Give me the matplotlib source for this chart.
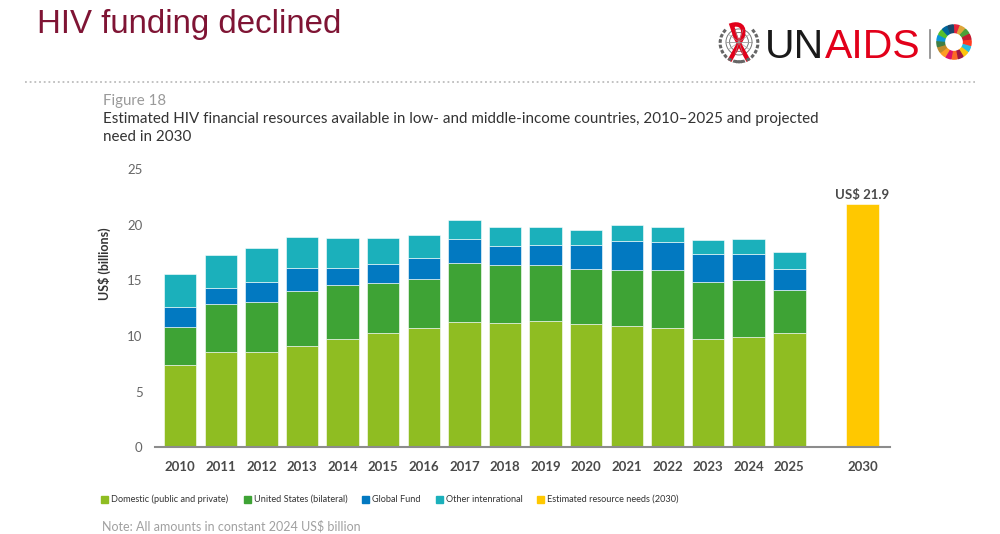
import numpy as np
import matplotlib
matplotlib.use("Agg")
import matplotlib.pyplot as plt
from matplotlib.lines import Line2D
from matplotlib.patches import Rectangle, Wedge, Circle
from matplotlib.path import Path
from matplotlib.patches import PathPatch

# ---------------- data ----------------
years = ["2010", "2011", "2012", "2013", "2014", "2015", "2016", "2017",
         "2018", "2019", "2020", "2021", "2022", "2023", "2024", "2025"]
domestic = [7.4, 8.55, 8.55, 9.1, 9.7, 10.3, 10.7, 11.3, 11.2, 11.4, 11.05, 10.95, 10.7, 9.7, 9.9, 10.25]
united_states = [3.45, 4.3, 4.55, 4.95, 4.9, 4.45, 4.45, 5.25, 5.15, 4.95, 4.95, 5.0, 5.25, 5.15, 5.15, 3.85]
global_fund = [1.75, 1.5, 1.75, 2.05, 1.5, 1.7, 1.85, 2.15, 1.75, 1.85, 2.15, 2.6, 2.5, 2.5, 2.35, 1.95]
other_intl = [2.95, 2.9, 3.05, 2.85, 2.7, 2.35, 2.05, 1.75, 1.7, 1.6, 1.35, 1.4, 1.35, 1.25, 1.3, 1.5]
need_year = "2030"
need_value = 21.9

series_labels = ["Domestic (public and private)", "United States (bilateral)", "Global Fund",
                 "Other intenrational", "Estimated resource needs (2030)"]
series_colors = ["#8FBD22", "#3EA335", "#0279C1", "#1BB0BB", "#FFC800"]
yticks = [0, 5, 10, 15, 20, 25]

FONT = ["Lato", "DejaVu Sans"]
SANS = ["Liberation Sans", "DejaVu Sans"]

# ---------------- figure ----------------
fig = plt.figure(figsize=(10, 5.34), dpi=100)
W, H = 1000.0, 534.0

def fx(px):
    return px / W

def fy(py):
    return 1 - py / H

ax = fig.add_axes([0.155, 0.1624, 0.735, 0.5206])

pos = np.arange(len(years), dtype=float)
need_pos = pos[-1] + 1.8
bw = 0.8

bottom = np.zeros(len(years))
for vals, col in zip([domestic, united_states, global_fund, other_intl], series_colors[:4]):
    ax.bar(pos, vals, bw, bottom=bottom, color=col, edgecolor="white", linewidth=0.4, zorder=2)
    bottom += np.array(vals)
ax.bar([need_pos], [need_value], bw, color=series_colors[4], edgecolor="white", linewidth=0.4, zorder=2)
ax.annotate(f"US$ {need_value}", (need_pos, need_value), xytext=(0, 2), textcoords="offset points",
            ha="center", va="bottom", fontsize=9.5, fontweight="bold", color="#4A4A4A",
            family=FONT)

ax.set_xlim(-0.62, need_pos + 0.68)
ax.set_ylim(0, 25)
ax.set_yticks(yticks)
ax.set_yticklabels([str(t) for t in yticks], family=FONT, fontsize=9.5, color="#666666")
ax.set_xticks(list(pos) + [need_pos])
ax.set_xticklabels(years + [need_year], family=FONT, fontsize=9.5, fontweight="bold",
                   color="#4A4A4A")
ax.tick_params(axis="y", length=0, pad=9)
ax.tick_params(axis="x", length=0, pad=10)
for s in ["top", "right", "left"]:
    ax.spines[s].set_visible(False)
ax.spines["bottom"].set_color("#8C8C8C")
ax.spines["bottom"].set_linewidth(1.5)
ax.spines["bottom"].set_zorder(3)
ax.set_ylabel("US$ (billions)", family=FONT, fontsize=9, fontweight="bold", color="#333333")
ax.yaxis.set_label_coords(-0.06, 0.66)

# ---------------- header ----------------
fig.text(fx(37), fy(33), "HIV funding declined", fontsize=23.8, color="#7F1434",
         family=SANS, va="baseline", ha="left")

fig.add_artist(Line2D([fx(25), fx(975)], [fy(82), fy(82)], linestyle=(0, (1, 1.6)),
                      color="#BDBDBD", linewidth=1.3))

fig.text(fx(103), fy(105), "Figure 18", fontsize=10.8, color="#9A9A9A", family=FONT,
         va="baseline", ha="left")
fig.text(fx(103), fy(123), "Estimated HIV financial resources available in low- and middle-income countries, 2010\u20132025 and projected",
         fontsize=10.9, color="#333333", family=FONT, va="baseline", ha="left")
fig.text(fx(103), fy(141), "need in 2030", fontsize=10.9, color="#333333", family=FONT,
         va="baseline", ha="left")

# ---------------- UNAIDS logo ----------------
em = fig.add_axes([fx(718), fy(64), fx(42), 42 / H])
em.set_xlim(-1, 1)
em.set_ylim(-1, 1)
em.set_aspect("equal")
em.axis("off")
for r in [0.62, 0.45]:
    em.add_patch(Circle((0, 0.05), r, fill=False, edgecolor="#777777", linewidth=0.7))
for a in np.linspace(0, np.pi, 6):
    em.plot([0, 0.62 * np.cos(a)], [0.05, 0.05 + 0.62 * np.sin(a)], color="#999999", lw=0.4)
    em.plot([0, 0.62 * np.cos(-a)], [0.05, 0.05 + 0.62 * np.sin(-a)], color="#999999", lw=0.4)
th = np.linspace(np.pi * 0.75, np.pi * 1.55, 12)
em.plot(0.9 * np.cos(th), 0.9 * np.sin(th), color="#666666", lw=2.2, linestyle=(0, (1.2, 0.6)))
th2 = np.linspace(np.pi * 0.25, -np.pi * 0.55, 12)
em.plot(0.9 * np.cos(th2), 0.9 * np.sin(th2), color="#666666", lw=2.2, linestyle=(0, (1.2, 0.6)))
verts = [(-0.45, -0.85), (0.15, 0.25), (0.35, 0.85), (-0.05, 0.95), (-0.35, 0.85),
         (-0.15, 0.25), (0.45, -0.85)]
codes = [Path.MOVETO, Path.LINETO, Path.CURVE4, Path.CURVE4, Path.CURVE4, Path.LINETO, Path.LINETO]
em.add_patch(PathPatch(Path(verts, codes), fill=False, edgecolor="#E2001A", linewidth=3.2,
                       capstyle="butt"))

un = fig.text(fx(765), fy(58), "UN", fontsize=29.5, color="#1A1A1A",
              family=SANS, va="baseline", ha="left")
renderer = fig.canvas.get_renderer()
bb = un.get_window_extent(renderer)
fig.text(bb.x1 / W + fx(0.5), fy(58), "AIDS", fontsize=29.5, color="#E2001A",
         family=SANS, va="baseline", ha="left")
fig.add_artist(Line2D([fx(930), fx(930)], [fy(30), fy(58)], color="#888888", linewidth=1.2))

sdg = fig.add_axes([fx(936), fy(60), fx(36), 36 / H])
sdg.set_xlim(-1, 1)
sdg.set_ylim(-1, 1)
sdg.set_aspect("equal")
sdg.axis("off")
sdg_cols = ["#E5243B", "#DDA63A", "#4C9F38", "#C5192D", "#FF3A21", "#26BDE2", "#FCC30B",
            "#A21942", "#FD6925", "#DD1367", "#FD9D24", "#BF8B2E", "#3F7E44", "#0A97D9",
            "#56C02B", "#00689D", "#19486A"]
step = 360 / 17
for i, c in enumerate(sdg_cols):
    t1 = 90 - i * step
    sdg.add_patch(Wedge((0, 0), 0.95, t1 - step + 2.5, t1, width=0.42, color=c))

# ---------------- legend ----------------
leg_x = [101, 244, 362, 436, 537]
for lx, lab, col in zip(leg_x, series_labels, series_colors):
    fig.add_artist(Rectangle((fx(lx), fy(503)), fx(7), 7 / H, color=col, transform=fig.transFigure))
    fig.text(fx(lx + 10), fy(499.5), lab, fontsize=6.6, color="#333333", family=FONT,
             va="center", ha="left")

fig.text(fx(102), fy(533), "Note: All amounts in constant 2024 US$ billion", fontsize=9,
         color="#A0A0A0", family=FONT, va="bottom", ha="left")

fig.savefig("out.png", dpi=100)
